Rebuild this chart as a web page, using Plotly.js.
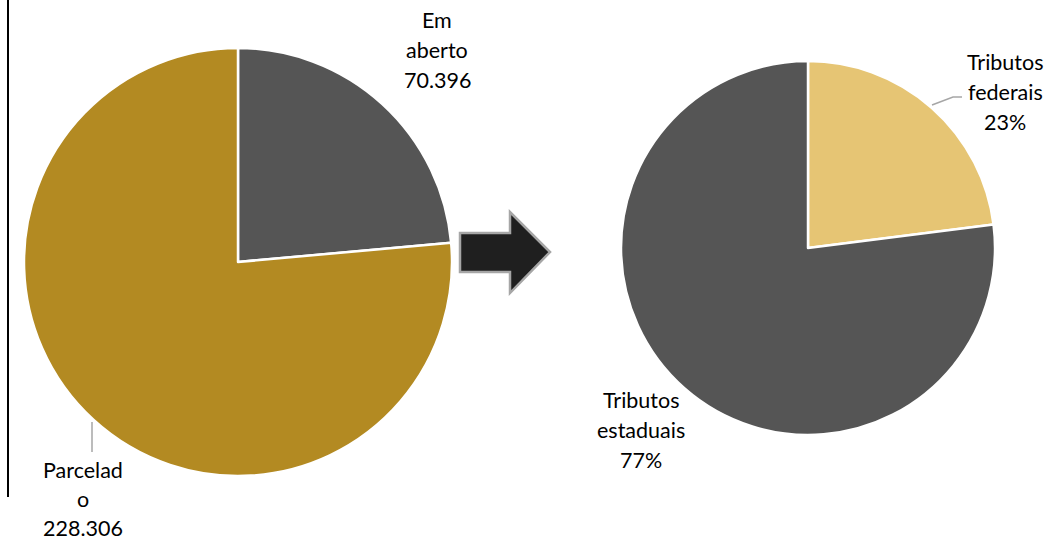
<!DOCTYPE html>
<html>
<head>
<meta charset="utf-8">
<script src="https://cdn.plot.ly/plotly-3.0.1.min.js"></script>
<style>html,body{margin:0;padding:0;background:#fff}#chart{width:1050px;height:541px}</style>
</head>
<body>
<div id="chart"></div>
<script>
// Left pie: debt situation (values in thousands)
const debtLabels = ['Em aberto', 'Parcelado'];
const debtLabelLines = [['Em', 'aberto'], ['Parcelad', 'o']];
const debtValues = [70396, 228306];
const debtColors = ['#555555', '#B38A22'];

// Right pie: tax breakdown (%)
const taxLabels = ['Tributos federais', 'Tributos estaduais'];
const taxLabelLines = [['Tributos', 'federais'], ['Tributos', 'estaduais']];
const taxValues = [23, 77];
const taxColors = ['#E6C574', '#555555'];

const W = 1050, H = 541;
const px = x => x / W;
const py = y => 1 - y / H;
const fmt = v => v.toLocaleString('de-DE');

const data = [
  {
    type: 'pie', sort: false, direction: 'clockwise', rotation: 0,
    textinfo: 'none', hoverinfo: 'label+value+percent', showlegend: false,
    labels: debtLabels, values: debtValues,
    marker: {colors: debtColors, line: {color: '#ffffff', width: 2.5}},
    domain: {x: [px(24), px(452)], y: [py(476), py(48)]}
  },
  {
    type: 'pie', sort: false, direction: 'clockwise', rotation: 0,
    textinfo: 'none', hoverinfo: 'label+value+percent', showlegend: false,
    labels: taxLabels, values: taxValues,
    marker: {colors: taxColors, line: {color: '#ffffff', width: 2.5}},
    domain: {x: [px(621), px(995)], y: [py(435), py(61)]}
  }
];

const taxTotal = taxValues.reduce((a, b) => a + b, 0);
const font = {family: 'Lato, "Open Sans", sans-serif', size: 21.5, color: '#000000'};
// one annotation per text line, spaced apart, block centred on (x, yc)
const block = (x, yc, lines, gap) => lines.map((t, i) => ({
  x: px(x), y: py(yc + (i - (lines.length - 1) / 2) * gap), xref: 'paper', yref: 'paper',
  text: t, showarrow: false, xanchor: 'center', yanchor: 'middle', font: font, borderpad: 0
}));

const annotations = [].concat(
  block(437, 50, debtLabelLines[0].concat([fmt(debtValues[0])]), 30),
  block(83, 499, debtLabelLines[1].concat([fmt(debtValues[1])]), 29),
  block(1005, 92, taxLabelLines[0].concat([Math.round(taxValues[0] / taxTotal * 100) + '%']), 30),
  block(641, 430, taxLabelLines[1].concat([Math.round(taxValues[1] / taxTotal * 100) + '%']), 30)
);

const linePath = pts => pts.map((p, i) => (i ? 'L' : 'M') + px(p[0]) + ',' + py(p[1])).join(' ');

const shapes = [
  {type: 'line', xref: 'paper', yref: 'paper', x0: px(8), x1: px(8), y0: py(0), y1: py(497),
    line: {color: '#000000', width: 2}},
  {type: 'path', xref: 'paper', yref: 'paper',
    path: linePath([[460, 233], [510, 233], [510, 212], [550, 252], [510, 293], [510, 272], [460, 272]]) + ' Z',
    fillcolor: '#1F1F1F', line: {color: '#A6A6A6', width: 2.5}},
  {type: 'path', xref: 'paper', yref: 'paper', path: linePath([[92, 422], [92, 452]]),
    line: {color: '#A6A6A6', width: 1.5}},
  {type: 'path', xref: 'paper', yref: 'paper', path: linePath([[932, 105], [953, 97], [962, 97]]),
    line: {color: '#A6A6A6', width: 1.5}}
];

const layout = {
  width: W, height: H, margin: {l: 0, r: 0, t: 0, b: 0},
  paper_bgcolor: '#ffffff', plot_bgcolor: '#ffffff',
  annotations: annotations, shapes: shapes
};

Plotly.newPlot('chart', data, layout, {displayModeBar: false, staticPlot: true});
</script>
</body>
</html>
